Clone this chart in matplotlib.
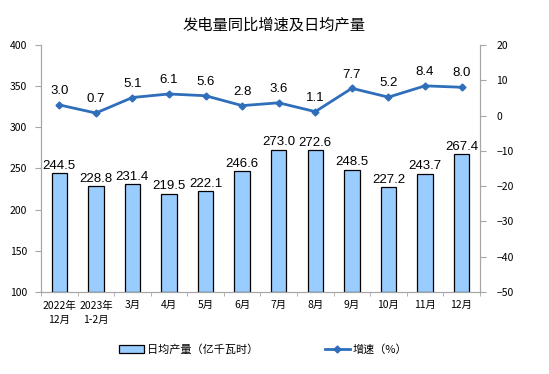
import numpy as np
import matplotlib.pyplot as plt

plt.rcParams['font.family'] = ['Noto Sans CJK SC', 'DejaVu Sans']

months = ['2022年\n12月', '2023年\n1-2月', '3月', '4月', '5月', '6月',
          '7月', '8月', '9月', '10月', '11月', '12月']
daily_output = [244.5, 228.8, 231.4, 219.5, 222.1, 246.6,
                273.0, 272.6, 248.5, 227.2, 243.7, 267.4]
growth = [3.0, 0.7, 5.1, 6.1, 5.6, 2.8, 3.6, 1.1, 7.7, 5.2, 8.4, 8.0]

x = np.arange(len(months))
axis_col = '#A6A6A6'

fig = plt.figure(figsize=(5.49, 3.74), dpi=100)
ax = fig.add_axes([0.0747, 0.219, 0.7993, 0.661])
ax2 = ax.twinx()

bars = ax.bar(x, [v - 100 for v in daily_output], bottom=100, width=0.42,
              color='#99CCFF', edgecolor='black', linewidth=0.9,
              label='日均产量（亿千瓦时）', zorder=2)
for xi, v in zip(x, daily_output):
    ax.text(xi, v + 1.5, f'{v:.1f}', ha='center', va='bottom',
            fontsize=9.5, family='Liberation Sans')

ax2.plot(x, growth, color='#2F6EBA', linewidth=2, marker='D', markersize=3.5,
         label='增速（%）', zorder=3)
for xi, v in zip(x, growth):
    ax2.text(xi, v + 2.2, f'{v:.1f}', ha='center', va='bottom',
             fontsize=9.5, family='Liberation Sans')

ax.set_xlim(-0.5, len(months) - 0.5)
ax.set_ylim(100, 400)
ax.set_yticks(range(100, 401, 50))
ax2.set_ylim(-50, 20)
ax2.set_yticks(range(-50, 21, 10))

ax.set_xticks(x)
ax.set_xticklabels(months, fontsize=7.5, linespacing=1.5,
                   family=['SimSun', 'Noto Sans CJK SC'])
ax.set_xticks(np.arange(-0.5, len(months), 1), minor=True)
ax.tick_params(axis='x', which='major', length=0, pad=6)
ax.tick_params(axis='x', which='minor', length=3, color=axis_col)
ax.tick_params(axis='y', labelsize=7.5, length=4, color=axis_col, pad=6)
ax2.tick_params(axis='y', labelsize=7.5, length=4, color=axis_col, pad=8)

for a in (ax, ax2):
    a.spines['top'].set_visible(False)
    for s in ('left', 'right', 'bottom'):
        a.spines[s].set_color(axis_col)

fig.suptitle('发电量同比增速及日均产量', fontsize=11, y=0.955)

h1, l1 = ax.get_legend_handles_labels()
h2, l2 = ax2.get_legend_handles_labels()
fig.legend(h1 + h2, l1 + l2, loc='center', bbox_to_anchor=(0.48, 0.066),
           ncol=2, frameon=False, fontsize=8, columnspacing=6,
           handlelength=2.2, handletextpad=0.3)

fig.savefig('out.png', dpi=100)
